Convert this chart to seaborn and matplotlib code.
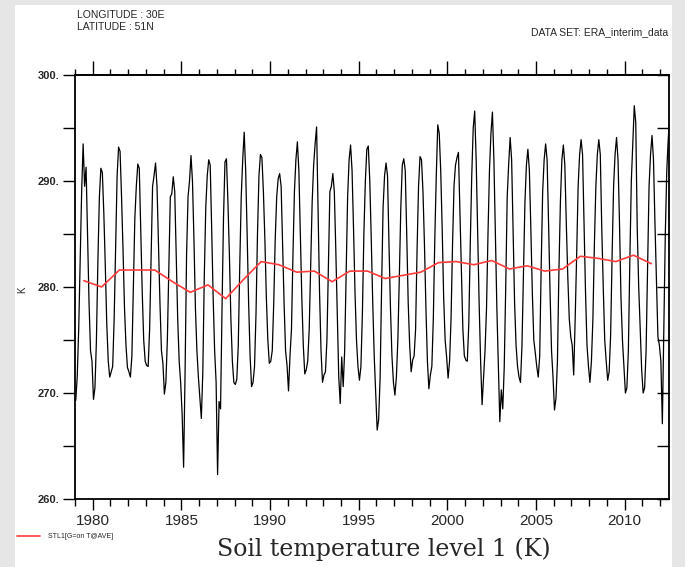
import numpy as np
import pandas as pd
import matplotlib
matplotlib.use('Agg')
import matplotlib.pyplot as plt
import seaborn as sns
from matplotlib.ticker import MultipleLocator, FixedLocator, NullFormatter
from matplotlib.transforms import ScaledTranslation
from matplotlib.patches import Rectangle
from matplotlib.lines import Line2D

# ------------------------------------------------------------
# Dados: STL1 mensal (K), lon 30E / lat 51N, ERA-Interim
# ------------------------------------------------------------
stl1_1979 = [269.3, 271.5, 276.0, 282.5, 289.0, 293.5, 289.5, 291.3, 285.0, 278.5, 274.0, 273.0]
stl1_1980 = [269.4, 270.5, 275.0, 282.5, 288.5, 291.2, 290.8, 287.0, 282.0, 276.5, 273.0, 271.5]
stl1_1981 = [272.0, 272.5, 277.0, 284.0, 290.5, 293.2, 292.8, 288.5, 283.5, 278.0, 274.5, 272.4]
stl1_1982 = [272.0, 271.5, 273.5, 280.0, 286.5, 289.5, 291.6, 291.2, 285.5, 279.5, 275.0, 273.0]
stl1_1983 = [272.6, 272.5, 276.0, 283.0, 289.5, 290.5, 291.7, 289.5, 284.0, 278.5, 274.0, 272.8]
stl1_1984 = [269.9, 271.0, 275.0, 282.0, 288.5, 288.8, 290.4, 289.0, 283.0, 277.0, 273.0, 271.0]
stl1_1985 = [268.0, 263.0, 272.0, 283.0, 288.5, 290.0, 292.4, 290.0, 284.5, 278.0, 274.0, 271.5]
stl1_1986 = [269.5, 267.6, 272.0, 281.0, 287.5, 290.5, 292.0, 291.5, 285.5, 279.0, 274.0, 271.0]
stl1_1987 = [262.3, 269.2, 268.5, 278.0, 286.5, 291.8, 292.1, 288.0, 283.0, 277.0, 273.0, 271.0]
stl1_1988 = [270.8, 271.3, 274.5, 282.0, 288.5, 292.0, 294.6, 291.0, 285.0, 278.5, 273.5, 270.6]
stl1_1989 = [271.0, 272.5, 277.5, 285.0, 290.5, 292.5, 292.2, 289.0, 284.5, 279.0, 275.0, 272.8]
stl1_1990 = [273.0, 274.0, 278.5, 284.5, 288.5, 290.2, 290.7, 289.5, 284.0, 278.5, 274.0, 272.6]
stl1_1991 = [270.2, 273.5, 276.0, 283.0, 289.0, 292.0, 293.7, 291.0, 285.0, 279.0, 274.5, 271.8]
stl1_1992 = [272.2, 273.0, 276.0, 282.0, 288.0, 291.5, 293.5, 295.1, 287.0, 279.5, 274.0, 271.0]
stl1_1993 = [271.7, 272.0, 275.0, 282.0, 289.0, 289.5, 290.7, 289.0, 283.5, 277.5, 271.5, 269.0]
stl1_1994 = [273.4, 270.6, 274.0, 281.5, 288.5, 292.0, 293.4, 291.0, 285.5, 279.5, 275.0, 272.5]
stl1_1995 = [271.2, 272.5, 277.5, 285.0, 290.0, 293.0, 293.3, 290.0, 284.5, 278.5, 273.5, 270.0]
stl1_1996 = [266.5, 267.5, 271.5, 280.0, 287.5, 290.5, 291.7, 290.5, 284.0, 278.0, 273.5, 271.0]
stl1_1997 = [269.8, 271.5, 275.0, 281.0, 287.5, 291.5, 292.1, 291.0, 285.0, 278.5, 274.5, 272.0]
stl1_1998 = [273.1, 273.5, 276.0, 283.5, 289.5, 292.3, 292.0, 289.0, 284.0, 278.0, 273.0, 270.4]
stl1_1999 = [271.7, 272.5, 277.0, 284.5, 290.5, 295.3, 294.5, 291.0, 285.5, 279.0, 275.0, 273.4]
stl1_2000 = [271.4, 273.0, 277.0, 284.0, 289.5, 291.5, 292.2, 292.7, 287.0, 281.0, 276.0, 273.5]
stl1_2001 = [273.1, 273.0, 276.5, 284.0, 290.5, 295.0, 296.6, 292.0, 285.0, 278.5, 273.0, 268.9]
stl1_2002 = [271.5, 274.0, 278.0, 285.0, 291.0, 294.5, 296.5, 292.0, 285.0, 278.0, 272.5, 267.3]
stl1_2003 = [270.3, 268.5, 272.5, 280.0, 288.5, 291.6, 294.1, 292.0, 285.0, 278.5, 274.5, 272.5]
stl1_2004 = [271.5, 271.0, 274.5, 281.5, 288.0, 291.5, 293.0, 291.0, 285.5, 279.5, 275.0, 273.8]
stl1_2005 = [272.5, 271.5, 273.5, 282.0, 289.0, 292.0, 293.5, 292.0, 286.0, 279.5, 274.0, 271.5]
stl1_2006 = [268.4, 269.5, 273.0, 281.5, 288.0, 292.0, 293.4, 291.5, 286.0, 281.0, 277.0, 275.3]
stl1_2007 = [274.5, 271.7, 277.0, 283.0, 289.5, 292.5, 293.9, 292.5, 286.0, 279.5, 274.5, 272.5]
stl1_2008 = [271.0, 273.0, 277.0, 284.0, 289.5, 292.5, 293.9, 292.5, 285.5, 280.0, 275.0, 273.0]
stl1_2009 = [271.2, 272.0, 275.5, 283.0, 289.5, 292.5, 294.1, 292.0, 286.0, 279.0, 275.0, 272.5]
stl1_2010 = [270.0, 270.5, 274.0, 282.5, 290.0, 293.5, 297.1, 295.5, 285.5, 280.0, 276.0, 272.2]
stl1_2011 = [270.0, 270.5, 274.0, 282.0, 289.5, 292.5, 294.3, 292.0, 286.0, 280.5, 275.3, 274.5]
stl1_2012 = [273.0, 267.1, 276.0, 285.0, 291.0, 294.0, 296.0]

# media anual (STL1[G=on T@AVE])
anos_media = list(range(1979, 2012))
stl1_media = [280.6, 280.0, 281.6, 281.6, 281.6, 280.5, 279.5, 280.2, 278.9, 280.7,
              282.4, 282.1, 281.4, 281.5, 280.5, 281.5, 281.5, 280.8, 281.1, 281.4,
              282.3, 282.4, 282.1, 282.5, 281.7, 282.0, 281.5, 281.7, 282.9, 282.7,
              282.4, 283.0, 282.2]

anos = list(range(1979, 2013))
mensal = [stl1_1979, stl1_1980, stl1_1981, stl1_1982, stl1_1983, stl1_1984, stl1_1985,
          stl1_1986, stl1_1987, stl1_1988, stl1_1989, stl1_1990, stl1_1991, stl1_1992,
          stl1_1993, stl1_1994, stl1_1995, stl1_1996, stl1_1997, stl1_1998, stl1_1999,
          stl1_2000, stl1_2001, stl1_2002, stl1_2003, stl1_2004, stl1_2005, stl1_2006,
          stl1_2007, stl1_2008, stl1_2009, stl1_2010, stl1_2011, stl1_2012]

rows = []
for ano, vals in zip(anos, mensal):
    for m, v in enumerate(vals):
        rows.append({'t': ano + (m + 0.5) / 12, 'stl1': v})
df_mes = pd.DataFrame(rows)
df_ano = pd.DataFrame({'t': np.array(anos_media) + 0.5, 'ave': stl1_media})

# ------------------------------------------------------------
# Figura
# ------------------------------------------------------------
sns.set_theme(style='white')
plt.rcParams['font.family'] = ['Liberation Sans', 'DejaVu Sans']

W, H = 685, 567
fig = plt.figure(figsize=(W / 100, H / 100), dpi=100, facecolor='#e6e6e6')
fig.patches.append(Rectangle((15 / W, 0), (672 - 15) / W, (H - 5) / H,
                             transform=fig.transFigure, facecolor='white',
                             edgecolor='none', zorder=-1))

ax = fig.add_axes([75 / W, 1 - 499 / H, (669 - 75) / W, (499 - 75) / H])
ax.set_facecolor('white')

vermelho = '#ff3b3b'
sns.lineplot(data=df_mes, x='t', y='stl1', color='black', lw=0.9,
             estimator=None, sort=False, ax=ax)
sns.lineplot(data=df_ano, x='t', y='ave', color=vermelho, lw=1.2,
             estimator=None, sort=False, ax=ax)

ax.set_xlim(1979.0, 2012.5)
ax.set_ylim(260, 300)
ax.set_xlabel('')
ax.set_ylabel('')

for s in ax.spines.values():
    s.set_color('black')
    s.set_linewidth(1.3)

# eixo x: ticks anuais, rótulos no meio do ano
ax.xaxis.set_major_locator(FixedLocator(list(range(1980, 2013, 5))))
ax.xaxis.set_minor_locator(MultipleLocator(1))
ax.set_xticklabels([str(a) for a in range(1980, 2013, 5)], fontsize=11)
desloc = ScaledTranslation(0.5 * 594 / 33.5 / 100, 0, fig.dpi_scale_trans)
for lab in ax.get_xticklabels():
    lab.set_transform(lab.get_transform() + desloc)

ax.tick_params(axis='x', which='major', direction='out', length=8, width=1,
               color='black', top=False, bottom=True, pad=3)
ax.tick_params(axis='x', which='minor', direction='out', length=5, width=1,
               color='black', top=False, bottom=True)

# topo: ticks para fora, maiores a cada 5 anos
topo = ax.secondary_xaxis('top')
topo.xaxis.set_major_locator(FixedLocator(list(range(1980, 2013, 5))))
topo.xaxis.set_minor_locator(MultipleLocator(1))
topo.xaxis.set_major_formatter(NullFormatter())
topo.tick_params(axis='x', which='major', direction='out', length=10, width=1, color='black')
topo.tick_params(axis='x', which='minor', direction='out', length=4.5, width=1, color='black')
topo.spines['top'].set_linewidth(1.3)

# eixo y
ax.yaxis.set_minor_locator(MultipleLocator(5))
ax.set_yticks([260, 270, 280, 290, 300])
ax.set_yticklabels(['260.', '270.', '280.', '290.', '300.'], fontsize=8, fontweight='bold')
ax.tick_params(axis='y', which='both', direction='out', length=9, width=1,
               color='black', left=True, pad=2)

# ticks internos à direita
ax2 = ax.twinx()
ax2.set_ylim(260, 300)
ax2.yaxis.set_major_locator(MultipleLocator(5))
ax2.tick_params(axis='y', direction='in', length=9, width=1, color='black',
                right=True, labelright=False)
for s in ax2.spines.values():
    s.set_visible(False)

# textos
fig.text(22 / W, 1 - 290 / H, 'K', rotation=90, fontsize=7, ha='center', va='center')
fig.text(77 / W, 1 - 15 / H, 'LONGITUDE : 30E', fontsize=7.5, ha='left', va='center')
fig.text(77 / W, 1 - 27 / H, 'LATITUDE : 51N', fontsize=7.5, ha='left', va='center')
fig.text(668 / W, 1 - 32 / H, 'DATA SET: ERA_interim_data', fontsize=7.5, ha='right', va='center')
fig.text(384 / W, 1 - 549 / H, 'Soil temperature level 1 (K)', fontsize=17,
         family='DejaVu Serif', ha='center', va='center')

# legenda
fig.add_artist(Line2D([17 / W, 40 / W], [1 - 536 / H, 1 - 536 / H], color=vermelho, lw=1.2))
fig.text(48 / W, 1 - 536 / H, 'STL1[G=on T@AVE]', fontsize=5, ha='left', va='center')

fig.savefig('out.png', dpi=100, facecolor=fig.get_facecolor())
